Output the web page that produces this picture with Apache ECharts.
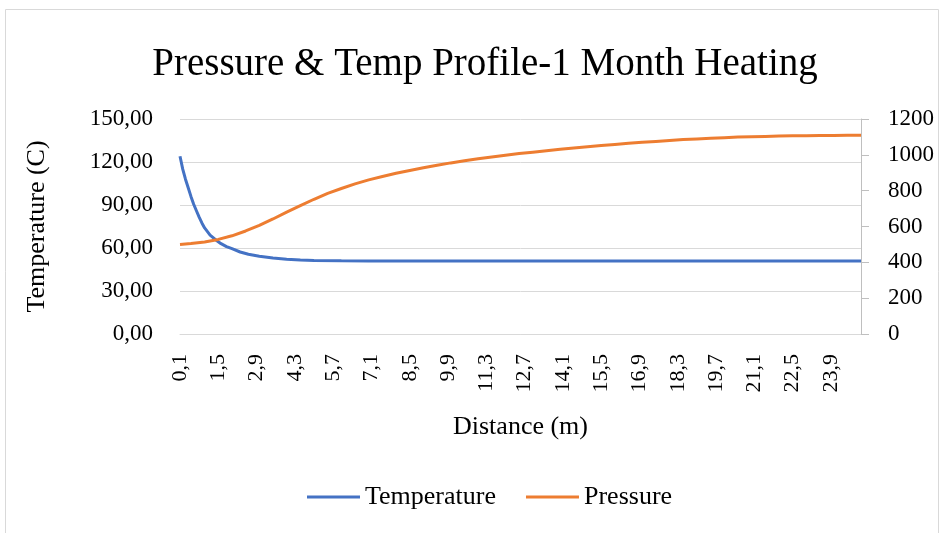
<!DOCTYPE html>
<html>
<head>
<meta charset="utf-8">
<script src="https://cdn.jsdelivr.net/npm/echarts@6/dist/echarts.min.js"></script>
<style>
  html, body { margin: 0; padding: 0; background: #fff; }
  #chart { width: 941px; height: 533px; }
</style>
</head>
<body>
<div id="chart"></div>
<script>
// distance categories 0,1 ... 25,0 (step 0,1)
const distances = [];
for (let i = 1; i <= 250; i++) distances.push((i / 10).toFixed(1).replace('.', ','));

// temperature (C)
const tempDist = [0.1, 0.2, 0.3, 0.4, 0.5, 0.6, 0.7, 0.8, 0.9, 1.0, 1.2, 1.4, 1.6, 1.8, 2.0, 2.3, 2.6, 3.0, 3.5, 4.0, 4.5, 5.0, 6.0, 7.0, 10.0, 15.0, 20.0, 25.0];
const tempVals = [124, 115, 108, 102, 96, 90.5, 86, 81.5, 77.5, 74, 69, 65.8, 63, 61, 59.5, 57.2, 55.6, 54.2, 53, 52.2, 51.6, 51.3, 51.1, 51, 50.9, 50.9, 51, 51];

// pressure
const presDist = [0.1, 0.5, 1.0, 1.5, 2.0, 2.5, 3.0, 3.5, 4.0, 4.5, 5.0, 5.5, 6.0, 6.5, 7.0, 7.5, 8.0, 8.5, 9.0, 9.5, 10.0, 10.5, 11.0, 11.5, 12.0, 12.5, 13.0, 13.5, 14.0, 14.5, 15.0, 15.5, 16.0, 16.5, 17.0, 17.5, 18.0, 18.5, 19.0, 19.5, 20.0, 20.5, 21.0, 21.5, 22.0, 22.5, 23.0, 23.5, 24.0, 24.5, 25.0];
const presVals = [500, 505, 514, 528, 548, 575, 606, 642, 680, 716, 752, 785, 812, 838, 860, 879, 897, 913, 928, 942, 955, 967, 978, 988, 998, 1007, 1015, 1023, 1031, 1038, 1045, 1052, 1058, 1064, 1070, 1075, 1080, 1085, 1089, 1093, 1096, 1099, 1101, 1103, 1105, 1106, 1107, 1108, 1108, 1109, 1109];

const tempTicks = { min: 0, max: 150, interval: 30 };
const presTicks = { min: 0, max: 1200, interval: 200 };

const font = "'Liberation Serif', 'DejaVu Serif', serif";
const label = d => d.toFixed(1).replace('.', ',');

const option = {
  animation: false,
  textStyle: { fontFamily: font },
  title: {
    text: 'Pressure & Temp Profile-1 Month Heating',
    left: 480,
    textAlign: 'center',
    top: 40,
    textStyle: { fontFamily: font, fontSize: 39, fontWeight: 'normal', color: '#000' }
  },
  graphic: [{
    type: 'rect',
    shape: { x: 5.5, y: 9.5, width: 933, height: 530 },
    style: { fill: 'none', stroke: '#d9d9d9', lineWidth: 1 },
    silent: true
  }],
  grid: { left: 180, right: 80, top: 119, bottom: 199 },
  legend: {
    bottom: 18,
    left: 302,
    itemWidth: 53,
    itemHeight: 3,
    itemGap: 30,
    icon: 'rect',
    textStyle: { fontFamily: font, fontSize: 26, color: '#000' },
    data: ['Temperature', 'Pressure']
  },
  xAxis: {
    type: 'category',
    data: distances,
    boundaryGap: false,
    name: 'Distance (m)',
    nameLocation: 'middle',
    nameGap: 80,
    nameTextStyle: { fontFamily: font, fontSize: 26, color: '#000' },
    axisLine: { lineStyle: { color: '#d9d9d9', width: 1 } },
    axisTick: { show: false },
    axisLabel: { interval: 13, rotate: 90, margin: 20, fontFamily: font, fontSize: 22, color: '#000' }
  },
  yAxis: [{
    type: 'value',
    min: tempTicks.min,
    max: tempTicks.max,
    interval: tempTicks.interval,
    name: 'Temperature (C)',
    nameLocation: 'middle',
    nameGap: 130,
    nameTextStyle: { fontFamily: font, fontSize: 26, color: '#000' },
    axisLine: { show: false },
    axisTick: { show: false },
    splitLine: { lineStyle: { color: '#d9d9d9', width: 1 } },
    axisLabel: { margin: 27, fontFamily: font, fontSize: 23, color: '#000',
      formatter: v => v.toFixed(2).replace('.', ',') }
  }, {
    type: 'value',
    min: presTicks.min,
    max: presTicks.max,
    interval: presTicks.interval,
    position: 'right',
    axisLine: { show: true, lineStyle: { color: '#bfbfbf', width: 1 } },
    axisTick: { show: true, length: 8, lineStyle: { color: '#bfbfbf' } },
    splitLine: { show: false },
    axisLabel: { margin: 27, fontFamily: font, fontSize: 23, color: '#000',
      formatter: v => String(v) }
  }],
  series: [{
    name: 'Temperature',
    type: 'line',
    yAxisIndex: 0,
    showSymbol: false,
    lineStyle: { color: '#4472c4', width: 3 },
    itemStyle: { color: '#4472c4' },
    data: tempDist.map((d, i) => [label(d), tempVals[i]])
  }, {
    name: 'Pressure',
    type: 'line',
    yAxisIndex: 1,
    showSymbol: false,
    lineStyle: { color: '#ed7d31', width: 3 },
    itemStyle: { color: '#ed7d31' },
    data: presDist.map((d, i) => [label(d), presVals[i]])
  }]
};

const myChart = echarts.init(document.getElementById('chart'));
myChart.setOption(option);
</script>
</body>
</html>
